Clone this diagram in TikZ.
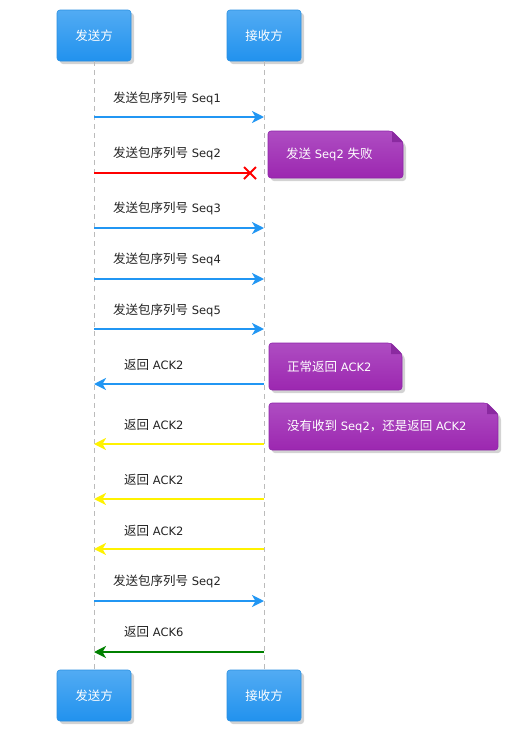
\documentclass[tikz,border=0pt]{standalone}
\usepackage{fontspec}
\setmainfont{DejaVu Sans}
\newfontfamily\cjk{Noto Sans CJK SC}
\usetikzlibrary{arrows.meta,shadows}
\definecolor{ptop}{HTML}{52ABF3}
\definecolor{pbot}{HTML}{2192EE}
\definecolor{pline}{HTML}{2A8FE0}
\definecolor{msgblue}{HTML}{2196F3}
\definecolor{ntop}{HTML}{AE4DC2}
\definecolor{nbot}{HTML}{9C27B0}
\definecolor{nline}{HTML}{8E24AA}
\definecolor{nfold}{HTML}{8A2AA0}
\definecolor{lblue}{HTML}{BBBBBB}
\definecolor{txt}{HTML}{222222}
\tikzset{
  part/.style={rounded corners=3pt, minimum width=74pt, minimum height=51pt,
    top color=ptop, bottom color=pbot, draw=pline, line width=0.6pt,
    text=white, font=\cjk\fontsize{12.5}{14}\selectfont,
    drop shadow={opacity=0.35, shadow xshift=3pt, shadow yshift=-3pt}},
  life/.style={draw=lblue, dashed, dash pattern=on 5pt off 4pt, line width=0.7pt},
  msg/.style={line width=2.6pt, -{Stealth[length=12pt,width=12pt,inset=3.5pt]}},
  lbl/.style={anchor=west, text=txt, font=\fontsize{11.5}{13}\selectfont, inner sep=0pt},
  notetxt/.style={anchor=west, text=white, font=\fontsize{11.5}{13}\selectfont, inner sep=0pt},
  notebody/.style={top color=ntop, bottom color=nbot, draw=nline, line width=0.6pt, rounded corners=3pt,
    drop shadow={opacity=0.35, shadow xshift=3pt, shadow yshift=-3pt}},
}
\newcommand{\zh}[1]{{\cjk\fontsize{12.5}{14}\selectfont #1}}
\newcommand{\mynote}[6]{%
  \path[notebody] (#2,#3) -- (#4-11,#3) -- (#4,#3+11) -- (#4,#5) -- (#2,#5) -- cycle;
  \fill[nfold] (#4-11,#3) -- (#4-11,#3+11) -- (#4,#3+11) -- cycle;
  \node[notetxt] (#1) at (#2+18,{(#3+#5)/2}) {#6};
}
\begin{document}
\begin{tikzpicture}[x=1pt,y=-1pt]
\useasboundingbox (0,0) rectangle (509,737);
% participants
\node[part] (s1) at (94,35.5) {发送方};
\node[part] (r1) at (264,35.5) {接收方};
\node[part] (s2) at (94,695.5) {发送方};
\node[part] (r2) at (264,695.5) {接收方};
% lifelines
\draw[life] (s1.south) -- (s2.north);
\draw[life] (r1.south) -- (r2.north);
% message points
\foreach \i/\y in {1/117,2/173,3/228,4/279,5/329,6/384,7/444,8/499,9/549,10/601,11/652}{
  \coordinate (a\i) at (94,\y);
  \coordinate (b\i) at (264,\y);
}
\coordinate (x2) at (250,173);
% messages
\draw[msg, draw=msgblue, fill=msgblue] (a1) -- (b1);
\node[lbl] (l1) at (113,98) {\zh{发送包序列号} Seq1};
\draw[line width=2.6pt, red] (a2) -- (x2);
\draw[line width=1.8pt, red] ([shift={(-6,-6)}]x2) -- ([shift={(6,6)}]x2)
  ([shift={(-6,6)}]x2) -- ([shift={(6,-6)}]x2);
\node[lbl] (l2) at (113,153) {\zh{发送包序列号} Seq2};
\draw[msg, draw=msgblue] (a3) -- (b3);
\node[lbl] (l3) at (113,208) {\zh{发送包序列号} Seq3};
\draw[msg, draw=msgblue] (a4) -- (b4);
\node[lbl] (l4) at (113,259) {\zh{发送包序列号} Seq4};
\draw[msg, draw=msgblue] (a5) -- (b5);
\node[lbl] (l5) at (113,310) {\zh{发送包序列号} Seq5};
\draw[msg, draw=msgblue] (b6) -- (a6);
\node[lbl] (l6) at (124,365) {\zh{返回} ACK2};
\draw[msg, draw=yellow] (b7) -- (a7);
\node[lbl] (l7) at (124,425) {\zh{返回} ACK2};
\draw[msg, draw=yellow] (b8) -- (a8);
\node[lbl] (l8) at (124,480) {\zh{返回} ACK2};
\draw[msg, draw=yellow] (b9) -- (a9);
\node[lbl] (l9) at (124,531) {\zh{返回} ACK2};
\draw[msg, draw=msgblue] (a10) -- (b10);
\node[lbl] (l10) at (113,581) {\zh{发送包序列号} Seq2};
\draw[msg, draw={rgb,255:red,0;green,128;blue,0}] (b11) -- (a11);
\node[lbl] (l11) at (124,632) {\zh{返回} ACK6};
% notes
\mynote{n1}{268}{131}{403}{178}{\zh{发送} Seq2 \zh{失败}}
\mynote{n2}{269}{343}{402}{390}{\zh{正常返回} ACK2}
\mynote{n3}{269}{403}{498}{450}{\zh{没有收到} Seq2\zh{，还是返回} ACK2}
\end{tikzpicture}
\end{document}
